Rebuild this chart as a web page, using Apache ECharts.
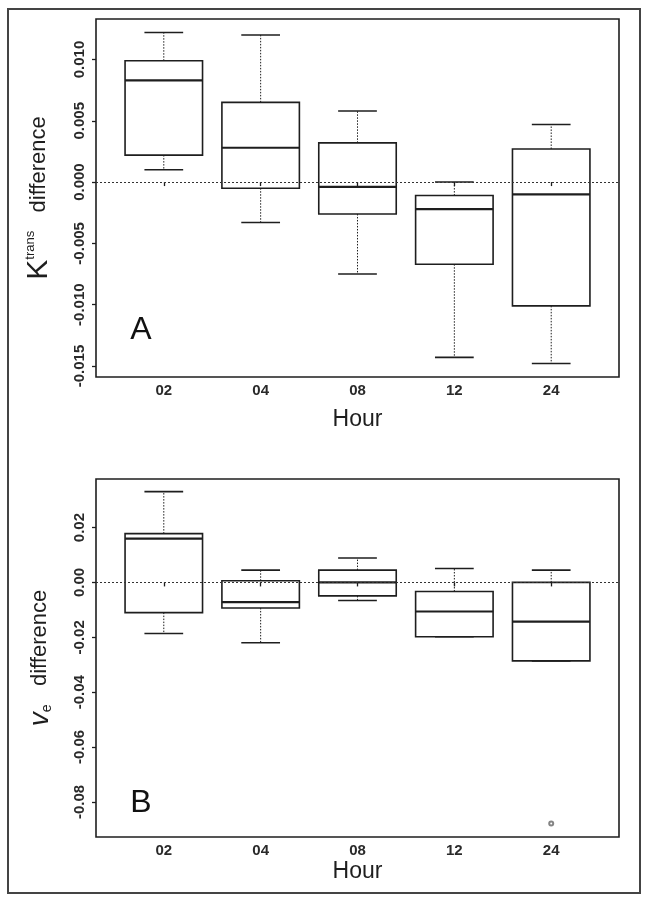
<!DOCTYPE html>
<html>
<head>
<meta charset="utf-8">
<script src="https://cdn.jsdelivr.net/npm/echarts@6.0.0/dist/echarts.min.js"></script>
<style>
  html, body { margin: 0; padding: 0; background: #fff; }
  #chart { width: 653px; height: 908px; }
</style>
</head>
<body>
<div id="chart"></div>
<script>
// ---- data ----
const hours = ['02', '04', '08', '12', '24'];

// Panel A: Ktrans difference (boxplot five-number summaries)
const ktransLow  = [0.0010, -0.0033, -0.0075, -0.0143, -0.0148];
const ktransQ1   = [0.0022, -0.0005, -0.0026, -0.0067, -0.0101];
const ktransMed  = [0.0083,  0.0028, -0.0004, -0.0022, -0.0010];
const ktransQ3   = [0.0099,  0.0065,  0.0032, -0.0011,  0.0027];
const ktransHigh = [0.0122,  0.0120,  0.0058,  0.0000,  0.0047];
const ktransTicks = [-0.015, -0.010, -0.005, 0.000, 0.005, 0.010];

// Panel B: ve difference
const veLow  = [-0.0186, -0.0220, -0.0066, -0.0198, -0.0286];
const veQ1   = [-0.0110, -0.0093, -0.0049, -0.0198, -0.0286];
const veMed  = [ 0.0160, -0.0072,  0.0000, -0.0106, -0.0143];
const veQ3   = [ 0.0178,  0.0006,  0.0045, -0.0033,  0.0000];
const veHigh = [ 0.0331,  0.0045,  0.0089,  0.0051,  0.0045];
const veOutlierHour = ['24'];
const veOutlierValue = [-0.0879];
const veTicks = [-0.08, -0.06, -0.04, -0.02, 0.00, 0.02];

// ---- helpers ----
const FONT = "'Liberation Sans', Arial, sans-serif";
const INK = '#1e1e1e';
const LABEL_INK = '#2a2a2a';
const X_MIN = 0.3, X_MAX = 5.7;
const BOX_W = 0.8, CAP_W = 0.4;
const hourPositions = hours.map((h, i) => i + 1);

function buildBoxData(lo, q1, md, q3, hi) {
  return hours.map((h, i) => [i + 1, lo[i], q1[i], md[i], q3[i], hi[i]]);
}

function renderBox(params, api) {
  const x = api.value(0);
  const lo = api.value(1), q1 = api.value(2), md = api.value(3), q3 = api.value(4), hi = api.value(5);
  const half = api.size([BOX_W, 0])[0] / 2;
  const capHalf = api.size([CAP_W, 0])[0] / 2;
  const cx = api.coord([x, md])[0];
  const yLo = api.coord([x, lo])[1];
  const yQ1 = api.coord([x, q1])[1];
  const yMd = api.coord([x, md])[1];
  const yQ3 = api.coord([x, q3])[1];
  const yHi = api.coord([x, hi])[1];
  const solid = { stroke: INK, lineWidth: 1.6, fill: null };
  const dotted = { stroke: INK, lineWidth: 1, lineDash: [1.5, 1.5], fill: null };
  return {
    type: 'group',
    children: [
      { type: 'line', shape: { x1: cx, y1: yQ3, x2: cx, y2: yHi }, style: dotted },
      { type: 'line', shape: { x1: cx, y1: yQ1, x2: cx, y2: yLo }, style: dotted },
      { type: 'line', shape: { x1: cx - capHalf, y1: yHi, x2: cx + capHalf, y2: yHi }, style: solid },
      { type: 'line', shape: { x1: cx - capHalf, y1: yLo, x2: cx + capHalf, y2: yLo }, style: solid },
      { type: 'rect', shape: { x: cx - half, y: yQ3, width: half * 2, height: yQ1 - yQ3 }, style: solid },
      { type: 'line', shape: { x1: cx - half, y1: yMd, x2: cx + half, y2: yMd }, style: { stroke: INK, lineWidth: 2.2 } }
    ]
  };
}

function xAxisFor(gridIndex, nameGap) {
  return {
    gridIndex, type: 'value', min: X_MIN, max: X_MAX,
    axisLine: { show: false }, splitLine: { show: false },
    axisTick: { show: true, customValues: hourPositions, length: 4, lineStyle: { color: INK, width: 1.3 } },
    axisLabel: {
      customValues: hourPositions, margin: 6,
      formatter: v => hours[Math.round(v) - 1],
      fontFamily: FONT, fontSize: 15, fontWeight: 'bold', color: LABEL_INK
    },
    name: 'Hour', nameLocation: 'middle', nameGap,
    nameTextStyle: { fontFamily: FONT, fontSize: 23, color: INK }
  };
}

function yAxisFor(gridIndex, min, max, ticks, decimals, name, rich) {
  return {
    gridIndex, type: 'value', min, max,
    axisLine: { show: false }, splitLine: { show: false },
    axisTick: { show: true, customValues: ticks, length: 4, lineStyle: { color: INK, width: 1.3 } },
    axisLabel: {
      customValues: ticks, rotate: 90, margin: 9,
      formatter: v => v.toFixed(decimals),
      fontFamily: FONT, fontSize: 15, fontWeight: 'bold', color: LABEL_INK
    },
    name, nameLocation: 'middle', nameGap: 42,
    nameTextStyle: { color: INK, rich }
  };
}

const zeroLine = {
  silent: true, symbol: ['none', 'none'], animation: false,
  label: { show: false },
  lineStyle: { type: [2, 2], color: '#333', width: 1 },
  data: [{ yAxis: 0 }]
};

const option = {
  animation: false,
  backgroundColor: '#fff',
  grid: [
    { left: 96, top: 19, width: 523, height: 358, show: true, borderColor: INK, borderWidth: 1.6, backgroundColor: 'transparent' },
    { left: 96, top: 479, width: 523, height: 358, show: true, borderColor: INK, borderWidth: 1.6, backgroundColor: 'transparent' }
  ],
  xAxis: [xAxisFor(0, 31), xAxisFor(1, 23)],
  yAxis: [
    yAxisFor(0, -0.0159, 0.0133, ktransTicks, 3, '{k|K}{s|trans}{d|   difference}', {
      k: { fontFamily: FONT, fontSize: 30, color: INK },
      s: { fontFamily: FONT, fontSize: 13, color: INK, verticalAlign: 'top' },
      d: { fontFamily: FONT, fontSize: 22, color: INK }
    }),
    yAxisFor(1, -0.0928, 0.0377, veTicks, 2, '{v|v}{e|e}{d|   difference}', {
      v: { fontFamily: FONT, fontSize: 28, fontStyle: 'italic', color: INK },
      e: { fontFamily: FONT, fontSize: 14, color: INK, verticalAlign: 'bottom' },
      d: { fontFamily: FONT, fontSize: 22, color: INK }
    })
  ],
  graphic: [
    { type: 'rect', shape: { x: 8, y: 9, width: 632, height: 884 }, style: { fill: 'none', stroke: '#444', lineWidth: 2 }, silent: true },
    { type: 'text', x: 141, y: 330, style: { text: 'A', font: "32px 'Liberation Sans', Arial, sans-serif", fill: '#111', textAlign: 'center', textVerticalAlign: 'middle' } },
    { type: 'text', x: 141, y: 803, style: { text: 'B', font: "32px 'Liberation Sans', Arial, sans-serif", fill: '#111', textAlign: 'center', textVerticalAlign: 'middle' } }
  ],
  series: [
    {
      type: 'custom', xAxisIndex: 0, yAxisIndex: 0,
      renderItem: renderBox,
      encode: { x: 0, y: [1, 2, 3, 4, 5] },
      data: buildBoxData(ktransLow, ktransQ1, ktransMed, ktransQ3, ktransHigh),
      markLine: zeroLine
    },
    {
      type: 'custom', xAxisIndex: 1, yAxisIndex: 1,
      renderItem: renderBox,
      encode: { x: 0, y: [1, 2, 3, 4, 5] },
      data: buildBoxData(veLow, veQ1, veMed, veQ3, veHigh),
      markLine: zeroLine
    },
    {
      type: 'scatter', xAxisIndex: 1, yAxisIndex: 1,
      symbol: 'emptyCircle', symbolSize: 4,
      itemStyle: { color: '#666', borderColor: '#666', borderWidth: 1 },
      data: veOutlierHour.map((h, i) => [hours.indexOf(h) + 1, veOutlierValue[i]])
    }
  ]
};

const chart = echarts.init(document.getElementById('chart'), null, { renderer: 'canvas' });
chart.setOption(option);
</script>
</body>
</html>
